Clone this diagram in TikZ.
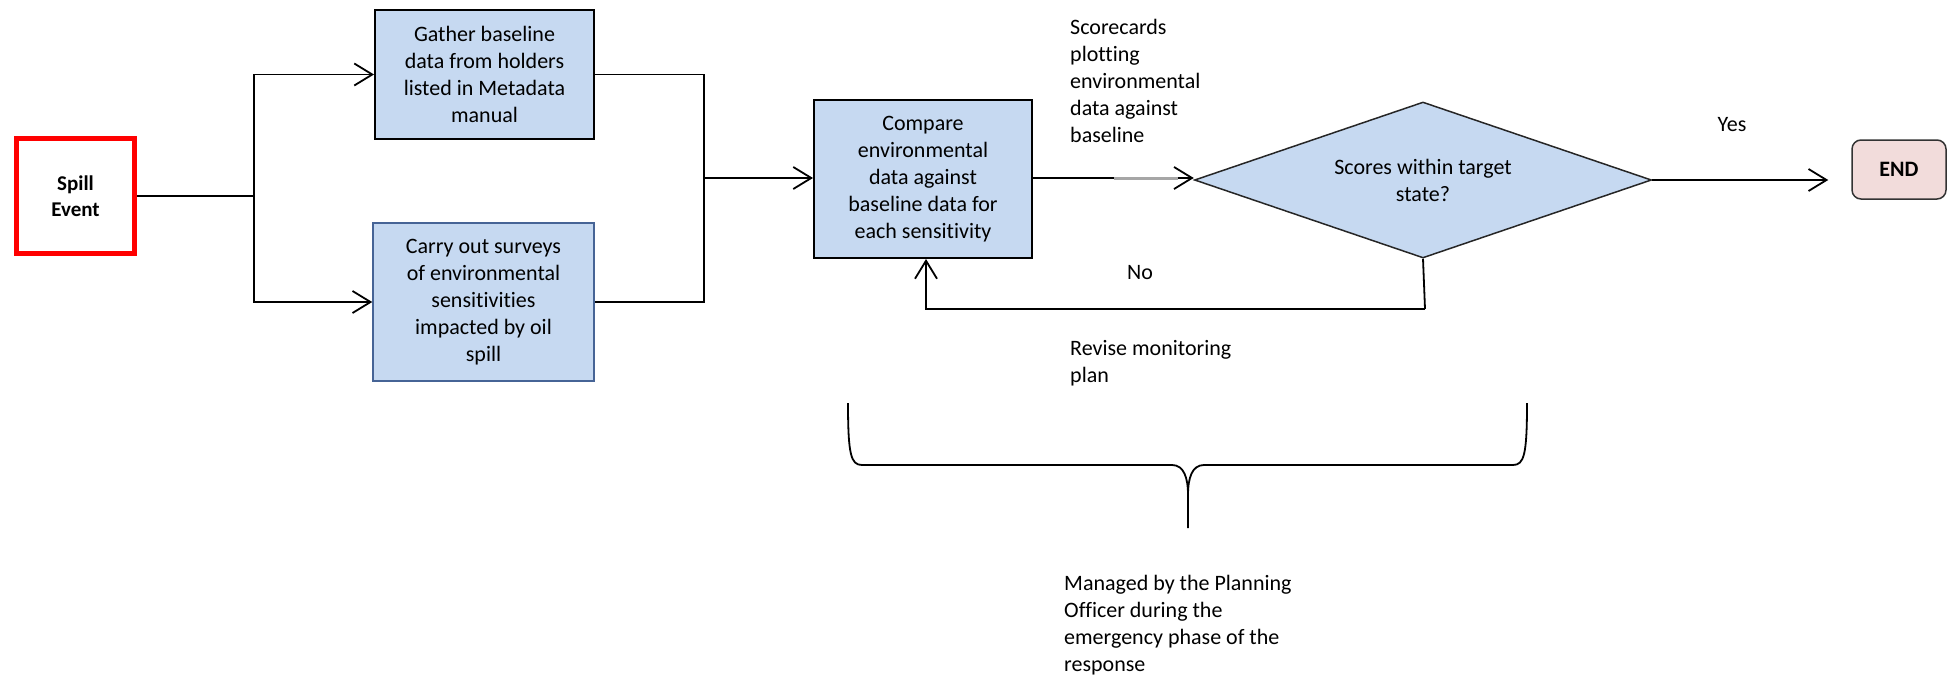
\documentclass[tikz,border=0pt]{standalone}
\usepackage{fontspec}
\setmainfont[Ligatures=NoCommon]{Carlito}
\usetikzlibrary{arrows.meta,shapes.geometric,calc}
\definecolor{boxblue}{RGB}{198,217,241}
\definecolor{endpink}{RGB}{242,220,219}
\definecolor{carryedge}{RGB}{70,100,150}
\begin{document}
\begin{tikzpicture}[x=1pt,y=-1pt,
  txt/.style={font=\fontsize{22}{27}\selectfont, text=black},
  box/.style={txt, rectangle, fill=boxblue, draw=black, line width=2pt, align=center, inner sep=0pt},
  conn/.style={line width=1.8pt, draw=black},
  arr/.style={conn, -{Straight Barb[length=18pt,width=22pt]}},
  note/.style={txt, align=left, inner sep=0pt, anchor=west}]
\useasboundingbox (0,0) rectangle (1948,680);

% process nodes
\node[txt, rectangle, draw=red, line width=5pt, minimum width=118pt, minimum height=115pt,
      align=center, font=\fontsize{21}{26}\selectfont\bfseries] (spill) at (75.5,196) {Spill\\Event};
\node[box, minimum width=219pt, minimum height=129pt] (gather) at (484.5,74.5)
  {Gather baseline\\data from holders\\listed in Metadata\\manual};
\node[box, draw=carryedge, line width=1.5pt, minimum width=221pt, minimum height=158pt] (carry) at (483.5,302)
  {Carry out surveys\\of environmental\\sensitivities\\impacted by oil\\spill};
\node[box, minimum width=218pt, minimum height=158pt] (cmp) at (923,179)
  {Compare\\environmental\\data against\\baseline data for\\each sensitivity};
\node[txt, diamond, aspect=2.93, draw=black!85, line width=1.5pt, fill=boxblue, minimum width=457pt,
      minimum height=156pt, inner sep=0pt, align=center] (dec) at (1423,180)
  {Scores within target\\state?};
\node[txt, rectangle, rounded corners=9pt, draw=black!80, line width=1.5pt, fill=endpink,
      minimum width=94pt, minimum height=59pt, font=\fontsize{22}{27}\selectfont\bfseries] (end) at (1899,169.5) {END};

% junction points
\coordinate (j1) at (254,196);
\coordinate (j2) at (704,178);
\coordinate (loop) at (1425,309);

% connectors
\draw[conn] (spill.east) -- (j1);
\draw[arr] (j1) |- (gather.west);
\draw[arr] (j1) |- (carry.west);
\draw[conn] (gather.east) -| (j2) |- (carry.east);
\draw[arr] (j2) -- (j2 -| cmp.west);
\draw[arr] (cmp.east |- j2) -- (j2 -| dec.west);
\draw[gray!70, line width=3pt] ($(j2 -| dec.west)+(-80,0)$) -- ($(j2 -| dec.west)+(-16,0)$);
\draw[arr, shorten >=23pt] (dec.east) -- (dec.east -| end.west);
\draw[conn] (dec.south) -- (loop);
\draw[arr] (loop) -| ($(cmp.south)+(3,0)$);

% labels
\node[note] (score) at (1070,80.5) {Scorecards\\plotting\\environmental\\data against\\baseline};
\node[txt] (yes) at (1732,125) {Yes};
\node[txt] (no) at (1140,273) {No};
\node[note] (revise) at (1070,363.5) {Revise monitoring\\plan};

% brace grouping the monitoring loop
\draw[line width=1.8pt] (848,403) .. controls (848,455) and (851,465) .. (862,465) -- (1172,465)
  .. controls (1184,465) and (1188,478) .. (1188,495) -- (1188,528);
\draw[line width=1.8pt] (1527,403) .. controls (1527,455) and (1524,465) .. (1513,465) -- (1204,465)
  .. controls (1192,465) and (1188,478) .. (1188,495);
\node[note] (managed) at (1064,625.5) {Managed by the Planning\\Officer during the\\emergency phase of the\\response};
\end{tikzpicture}
\end{document}
